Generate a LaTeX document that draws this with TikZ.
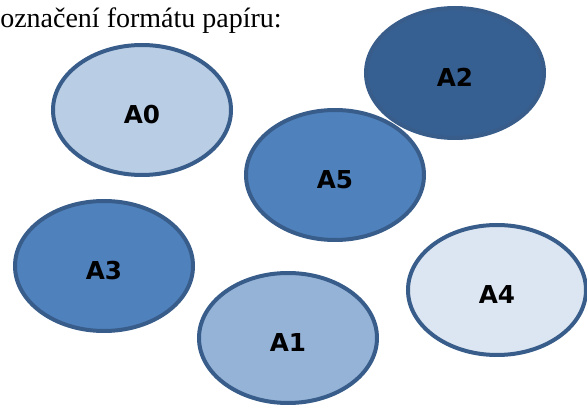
\documentclass[tikz,border=0pt]{standalone}
\usepackage{fontspec}
\setmainfont{Liberation Serif}
\newfontfamily\lblfont{DejaVu Sans}
\usepackage{tikz}
\usetikzlibrary{shapes.geometric}

\definecolor{rimblue}{HTML}{385D8A}
\definecolor{fillAzero}{HTML}{B9CDE5}
\definecolor{fillAone}{HTML}{95B3D7}
\definecolor{fillAtwo}{HTML}{376092}
\definecolor{fillAthree}{HTML}{4F81BD}
\definecolor{fillAfour}{HTML}{DCE6F2}
\definecolor{fillAfive}{HTML}{4F81BD}

\begin{document}
\begin{tikzpicture}[x=0.75pt, y=-0.75pt,
  paper/.style={ellipse, draw=rimblue, line width=3pt, inner sep=0pt,
                minimum width=133.5pt, minimum height=97.5pt},
  lbl/.style={font=\lblfont\bfseries\fontsize{18.5}{22}\selectfont, text=black, inner sep=0pt},
  head/.style={font=\fontsize{21}{25}\selectfont, inner sep=0pt, anchor=base west}]
\useasboundingbox[fill=white] (0,0) rectangle (587,406);
\node[head] (title) at (0,28) {označení formátu papíru:};
% paper sizes, drawn back to front
\foreach \n/\x/\y/\col in {%
    A0/142/110/fillAzero,
    A2/455/73/fillAtwo,
    A5/335/175/fillAfive,
    A3/104/266/fillAthree,
    A1/288/338/fillAone,
    A4/497/290/fillAfour}{
  \node[paper, fill=\col] (\n) at (\x,\y) {};
  \node[lbl] (\n-t) at ([yshift=-3.5pt]\n.center) {\n};
}
\end{tikzpicture}
\end{document}
